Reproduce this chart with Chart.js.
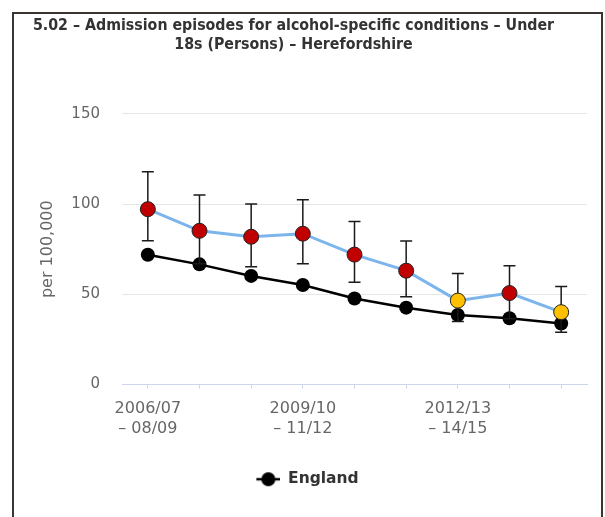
<!DOCTYPE html>
<html>
<head>
<meta charset="utf-8">
<script src="https://cdn.jsdelivr.net/npm/chart.js@4.4.1/dist/chart.umd.min.js"></script>
<style>
  html, body { margin: 0; padding: 0; background: #fff; }
  #wrap { position: absolute; left: 0; top: 0; width: 605px; height: 517px; }
  #frame { position: absolute; left: 12px; top: 12px; width: 587px; height: 520px;
           border: 2px solid #3b3532; border-bottom: none; pointer-events: none; }
</style>
</head>
<body>
<div id="wrap"><canvas id="c" width="605" height="517"></canvas></div>
<div id="frame"></div>
<script>
const titleLines = ['5.02 \u2013 Admission episodes for alcohol-specific conditions \u2013 Under', '18s (Persons) \u2013 Herefordshire'];
const categories = [
  ['2006/07', '\u2013 08/09'], ['2007/08', '\u2013 09/10'], ['2008/09', '\u2013 10/11'],
  ['2009/10', '\u2013 11/12'], ['2010/11', '\u2013 12/13'], ['2011/12', '\u2013 13/14'],
  ['2012/13', '\u2013 14/15'], ['2013/14', '\u2013 15/16'], ['2014/15', '\u2013 16/17']
];
const areaName = 'Herefordshire';
const areaValues = [97.2, 85.2, 81.9, 83.6, 72.0, 63.1, 46.5, 50.7, 40.1];
const areaLower  = [79.7, 67.0, 65.3, 67.0, 56.7, 48.7, 34.9, 36.5, 28.9];
const areaUpper  = [117.9, 105.0, 100.0, 102.4, 90.4, 79.5, 61.6, 65.9, 54.3];
const areaSignificance = ['worse','worse','worse','worse','worse','worse','similar','worse','similar'];
const englandValues = [71.9, 66.6, 60.2, 55.2, 47.7, 42.6, 38.5, 36.7, 33.8];
const yTicks = [0, 50, 100, 150];

const sigColours = { worse: '#C00000', similar: '#FFC000' };

// legend symbol: line with circle (transparent room on the left)
const legendImg = document.createElement('canvas');
legendImg.width = 52; legendImg.height = 16;
(function () {
  const g = legendImg.getContext('2d');
  g.strokeStyle = '#000'; g.lineWidth = 2.5;
  g.beginPath(); g.moveTo(28, 8); g.lineTo(52, 8); g.stroke();
  g.fillStyle = '#000';
  g.beginPath(); g.arc(40, 8, 7, 0, Math.PI * 2); g.fill();
})();

const errorBars = {
  id: 'errorBars',
  beforeDatasetDraw(chart, args) {
    if (chart.data.datasets[args.index].label !== areaName) return;
    const x = chart.scales.x, y = chart.scales.y, ctx = chart.ctx;
    ctx.save();
    ctx.strokeStyle = '#1a1a1a';
    ctx.lineWidth = 1.5;
    areaLower.forEach((lo, i) => {
      const px = x.getPixelForValue(i);
      const pLo = y.getPixelForValue(lo), pHi = y.getPixelForValue(areaUpper[i]);
      ctx.beginPath();
      ctx.moveTo(px, pLo); ctx.lineTo(px, pHi);
      ctx.moveTo(px - 6, pLo); ctx.lineTo(px + 6, pLo);
      ctx.moveTo(px - 6, pHi); ctx.lineTo(px + 6, pHi);
      ctx.stroke();
    });
    ctx.restore();
  }
};

new Chart(document.getElementById('c'), {
  type: 'line',
  data: {
    labels: categories,
    datasets: [
      {
        label: areaName,
        data: areaValues,
        order: 0,
        borderColor: '#7CB5EC',
        borderWidth: 3,
        pointRadius: 7.5,
        pointBorderWidth: 1,
        pointBorderColor: '#222',
        pointBackgroundColor: areaSignificance.map(s => sigColours[s]),
        tension: 0,
        fill: false
      },
      {
        label: 'England',
        data: englandValues,
        order: 1,
        borderColor: '#000',
        borderWidth: 2.5,
        pointRadius: 7,
        pointBorderWidth: 0,
        pointBackgroundColor: '#000',
        tension: 0,
        fill: false
      }
    ]
  },
  plugins: [errorBars],
  options: {
    responsive: false,
    animation: false,
    layout: { padding: { left: 0, right: 18, top: 0, bottom: 20 } },
    plugins: {
      tooltip: { enabled: false },
      title: {
        display: true,
        text: titleLines,
        color: '#333',
        font: { family: 'DejaVu Sans Condensed', weight: 'bold', size: 15.8, lineHeight: 1.2 },
        padding: { top: 16.5, bottom: 59.5 }
      },
      legend: {
        position: 'bottom',
        labels: {
          usePointStyle: true,
          pointStyleWidth: 52,
          boxHeight: 16,
          color: '#333',
          font: { family: 'DejaVu Sans', weight: 'bold', size: 15.5 },
          padding: 14,
          generateLabels(chart) {
            const items = Chart.defaults.plugins.legend.labels.generateLabels(chart)
              .filter(it => it.text === 'England');
            items.forEach(it => { it.pointStyle = legendImg; });
            return items;
          }
        }
      }
    },
    scales: {
      x: {
        offset: true,
        afterFit(scale) { scale.height += 9; },
        grid: { offset: false, drawOnChartArea: false, drawTicks: true, tickLength: 4, tickColor: '#ccd6eb' },
        border: { display: true, color: '#ccd6eb', width: 1 },
        ticks: {
          autoSkip: false,
          maxRotation: 0,
          color: '#666',
          padding: 10,
          font: { family: 'DejaVu Sans', size: 16, lineHeight: 1.25 },
          callback(v, i) { return i % 3 === 0 ? categories[i] : ''; }
        }
      },
      y: {
        min: 0,
        max: 150,
        afterBuildTicks(scale) { scale.ticks = yTicks.map(v => ({ value: v })); },
        afterFit(scale) { scale.width = 122; },
        grid: { color: '#e6e6e6', drawTicks: false },
        border: { display: false },
        ticks: { color: '#666', padding: 22, font: { family: 'DejaVu Sans', size: 15 } },
        title: {
          display: true,
          text: 'per 100,000',
          color: '#666',
          font: { family: 'DejaVu Sans', size: 16 },
          padding: { top: 38, bottom: 0 }
        }
      }
    }
  }
});
</script>
</body>
</html>
